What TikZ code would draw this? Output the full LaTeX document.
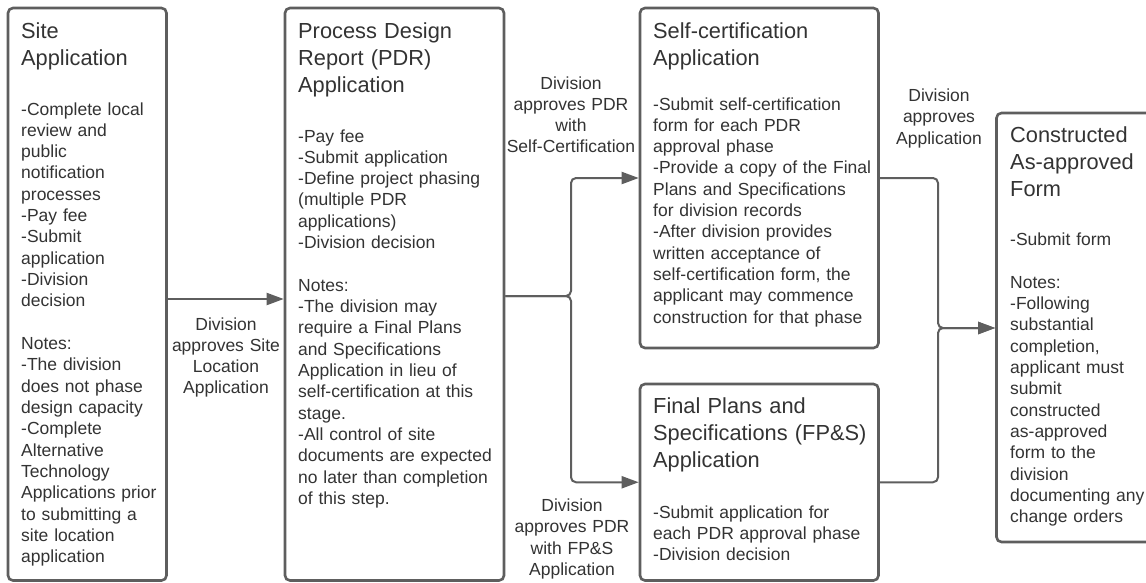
\documentclass[tikz,border=0pt]{standalone}
\usepackage{fontspec}
\setmainfont{Liberation Sans}
\usetikzlibrary{arrows.meta,calc}
\definecolor{edge}{HTML}{5E5E5E}
\definecolor{ink}{HTML}{333333}

\tikzset{
  stage/.style={draw=edge, line width=2.6pt, rounded corners=5pt, rectangle, inner sep=0pt},
  heading/.style={anchor=base west, inner sep=0pt, text width=240pt, align=left, text=ink,
    font=\fontsize{21.8}{27}\selectfont},
  detail/.style={anchor=base west, inner sep=0pt, text width=240pt, align=left, text=ink,
    font=\fontsize{17.5}{21.33}\selectfont},
  cond/.style={anchor=base, inner sep=0pt, text width=160pt, align=center, text=ink,
    font=\fontsize{17.5}{21.33}\selectfont},
  link/.style={draw=edge, line width=2pt, rounded corners=5pt,
    -{Triangle[length=17pt,width=12pt]}},
}

\begin{document}
\begin{tikzpicture}[x=1pt, y=-1pt]
  \useasboundingbox (0,0) rectangle (1146,582);
  \fill[white] (0,0) rectangle (1146,582);
  \clip (0,0) rectangle (1146,582);

  % stage boxes
  \node[stage, minimum width=158.5pt, minimum height=572.5pt] (site) at (87.25,294.25) {};
  \node[stage, minimum width=219pt,   minimum height=572.5pt] (pdr)  at (394.5,294.25) {};
  \node[stage, minimum width=238.5pt, minimum height=340pt]   (self) at (759.25,178) {};
  \node[stage, minimum width=238.5pt, minimum height=196.5pt] (fps)  at (759.25,482.25) {};
  \node[stage, minimum width=163.5pt, minimum height=429pt]   (cons) at (1078.25,327.5) {};

  % box texts
  \node[heading] (siteT) at (21,38) {Site\\Application};
  \node[detail]  (siteB) at (21,115) {-Complete local\\review and\\public\\notification\\processes\\-Pay fee\\-Submit\\application\\-Division\\decision\\[21.33pt]Notes:\\-The division\\does not phase\\design capacity\\-Complete\\Alternative\\Technology\\Applications prior\\to submitting a\\site location\\application};

  \node[heading] (pdrT) at (298,38) {Process Design\\Report (PDR)\\Application};
  \node[detail]  (pdrB) at (298,142) {-Pay fee\\-Submit application\\-Define project phasing\\(multiple PDR\\applications)\\-Division decision\\[21.33pt]Notes:\\-The division may\\require a Final Plans\\and Specifications\\Application in lieu of\\self-certification at this\\stage.\\-All control of site\\documents are expected\\no later than completion\\of this step.};

  \node[heading] (selfT) at (653,38) {Self-certification\\Application};
  \node[detail]  (selfB) at (653,110) {-Submit self-certification\\form for each PDR\\approval phase\\-Provide a copy of the Final\\Plans and Specifications\\for division records\\-After division provides\\written acceptance of\\self-certification form, the\\applicant may commence\\construction for that phase};

  \node[heading] (fpsT) at (653,413) {Final Plans and\\Specifications (FP\&S)\\Application};
  \node[detail]  (fpsB) at (653,518) {-Submit application for\\each PDR approval phase\\-Division decision};

  \node[heading] (consT) at (1010,142) {Constructed\\As-approved\\Form};
  \node[detail]  (consB) at (1010,245.5) {-Submit form\\[21.33pt]Notes:\\-Following\\substantial\\completion,\\applicant must\\submit\\constructed\\as-approved\\form to the\\division\\documenting any\\change orders};

  % connector labels
  \node[cond] (l1) at (226,330) {Division\\approves Site\\Location\\Application};
  \node[cond] (l2) at (571,89) {Division\\approves PDR\\with\\Self-Certification};
  \node[cond] (l3) at (572,511.5) {Division\\approves PDR\\with FP\&S\\Application};
  \node[cond] (l4) at (939,101.5) {Division\\approves\\Application};

  % connectors
  \coordinate (split) at (571,296);
  \coordinate (merge) at (938,328);
  \draw[link] ([yshift=-4.75pt]site.east) -- ([yshift=-4.75pt]pdr.west);
  \draw[link] (pdr.east |- split) -- (split) |- (self.west);
  \draw[link] (pdr.east |- split) -- (split) |- (fps.west);
  \draw[link] (self.east) -| (merge) -- (merge -| cons.west);
  \draw[link] (fps.east) -| (merge) -- (merge -| cons.west);
\end{tikzpicture}
\end{document}
